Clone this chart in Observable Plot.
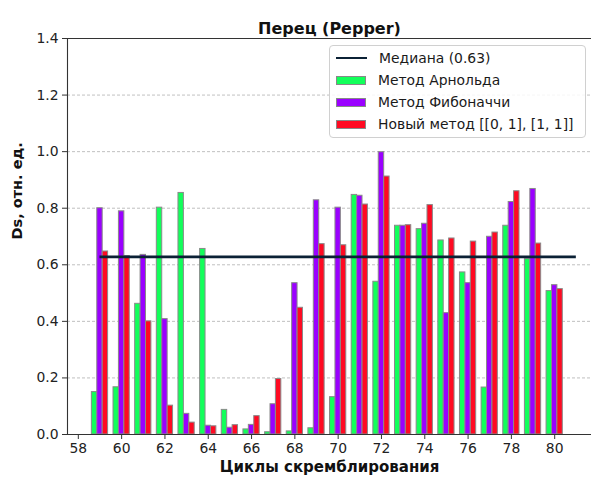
<!DOCTYPE html>
<html>
<head>
<meta charset="utf-8">
<script src="https://cdn.jsdelivr.net/npm/d3@7"></script>
<script src="https://cdn.jsdelivr.net/npm/@observablehq/plot@0.6"></script>
<style>
  body { margin: 0; background: #fff; font-family: "DejaVu Sans", sans-serif; }
  #wrap { position: relative; width: 591px; height: 482px; }
  #legend {
    position: absolute; left: 329px; top: 45px; width: 257px; height: 93px;
    box-sizing: border-box; border: 1px solid #d0d0d0; border-radius: 4px; background: rgba(255,255,255,0.85);
    font-size: 13.9px; color: #1a1a1a;
  }
  .row { position: absolute; left: 6px; height: 22px; display: flex; align-items: center; }
  .sw { width: 30px; height: 9px; box-sizing: border-box; border: 1px solid #888; margin-right: 12px; }
  .ln { width: 31px; height: 2.5px; background: #0b2135; margin-right: 12px; }
</style>
</head>
<body>
<div id="wrap"></div>
<script>
const cycles = [59,60,61,62,63,64,65,66,67,68,69,70,71,72,73,74,75,76,77,78,79,80];
const arnold = [0.150,0.167,0.462,0.802,0.854,0.656,0.087,0.018,0.008,0.011,0.022,0.132,0.847,0.540,0.738,0.726,0.686,0.573,0.166,0.738,0.620,0.507];
const fibonacci = [0.800,0.789,0.635,0.408,0.073,0.031,0.024,0.034,0.107,0.535,0.828,0.802,0.844,0.998,0.738,0.745,0.429,0.535,0.699,0.822,0.868,0.528];
const newMethod = [0.647,0.631,0.400,0.102,0.042,0.029,0.033,0.065,0.196,0.448,0.673,0.669,0.813,0.912,0.740,0.811,0.693,0.682,0.714,0.860,0.675,0.514];
const seriesNames = ["Метод Арнольда", "Метод Фибоначчи", "Новый метод [[0, 1], [1, 1]]"];
const seriesColors = ["#12ff5a", "#9a00ff", "#ff0a22"];
const medianValue = 0.628;
const medianLabel = "Медиана (0.63)";
const medianSpan = [59, 81];
const xTicks = [58,60,62,64,66,68,70,72,74,76,78,80];
const yTicks = [0,0.2,0.4,0.6,0.8,1.0,1.2,1.4];
const title = "Перец (Pepper)";
const xLabel = "Циклы скремблирования";
const yLabel = "Ds, отн. ед.";

const barW = 0.25;
const seriesValues = [arnold, fibonacci, newMethod];
const rows = [];
seriesValues.forEach((vals, si) => {
  cycles.forEach((c, i) => {
    const center = c + (si - 1) * barW;
    rows.push({series: seriesNames[si], x1: center - barW / 2, x2: center + barW / 2, y: vals[i]});
  });
});

const spine = "#333";
const chart = Plot.plot({
  width: 591,
  height: 482,
  marginTop: 38,
  marginBottom: 48,
  marginLeft: 67,
  marginRight: 0,
  style: {fontFamily: "DejaVu Sans, sans-serif", fontSize: "13.9px", color: "#222", background: "#fff"},
  x: {domain: [57.5, 81.7], label: null},
  y: {domain: [0, 1.4], label: null},
  color: {domain: seriesNames, range: seriesColors},
  marks: [
    Plot.gridY(yTicks.filter(d => d > 0 && d < 1.4), {stroke: "#b0b0b0", strokeOpacity: 1, strokeWidth: 0.8, strokeDasharray: "3,2"}),
    Plot.rectY(rows, {x1: "x1", x2: "x2", y: "y", fill: "series", stroke: "#8a8a8a", strokeWidth: 1, insetLeft: 0, insetRight: 0}),
    Plot.ruleY([medianValue], {x1: medianSpan[0], x2: medianSpan[1], stroke: "#0b2135", strokeWidth: 2.6}),
    Plot.ruleY([0, 1.4], {stroke: spine, strokeWidth: 1.1}),
    Plot.ruleX([57.5], {stroke: spine, strokeWidth: 1.1}),
    Plot.axisX({ticks: xTicks, tickSize: 5, tickPadding: 4, label: null, stroke: spine}),
    Plot.axisY({ticks: yTicks, tickSize: 5, tickPadding: 4, tickFormat: d3.format(".1f"), label: null, stroke: spine}),
    Plot.text([title], {frameAnchor: "top", dy: -16, fontWeight: "bold", fontSize: 16, fill: "#111"}),
    Plot.text([xLabel], {frameAnchor: "bottom", dy: 37, fontWeight: "bold", fontSize: 15, fill: "#111"}),
    Plot.text([yLabel], {frameAnchor: "left", dx: -50, dy: 3, rotate: -90, fontWeight: "bold", fontSize: 14.5, fill: "#111"})
  ]
});

const wrap = document.getElementById("wrap");
wrap.appendChild(chart);

const legend = document.createElement("div");
legend.id = "legend";
const entries = [{type: "line", label: medianLabel}].concat(seriesNames.map((n, i) => ({type: "rect", label: n, color: seriesColors[i]})));
entries.forEach((e, i) => {
  const row = document.createElement("div");
  row.className = "row";
  row.style.top = (1 + i * 22) + "px";
  const sw = document.createElement("div");
  if (e.type === "line") { sw.className = "ln"; }
  else { sw.className = "sw"; sw.style.background = e.color; }
  row.appendChild(sw);
  const t = document.createElement("span");
  t.textContent = e.label;
  row.appendChild(t);
  legend.appendChild(row);
});
wrap.appendChild(legend);
</script>
</body>
</html>
